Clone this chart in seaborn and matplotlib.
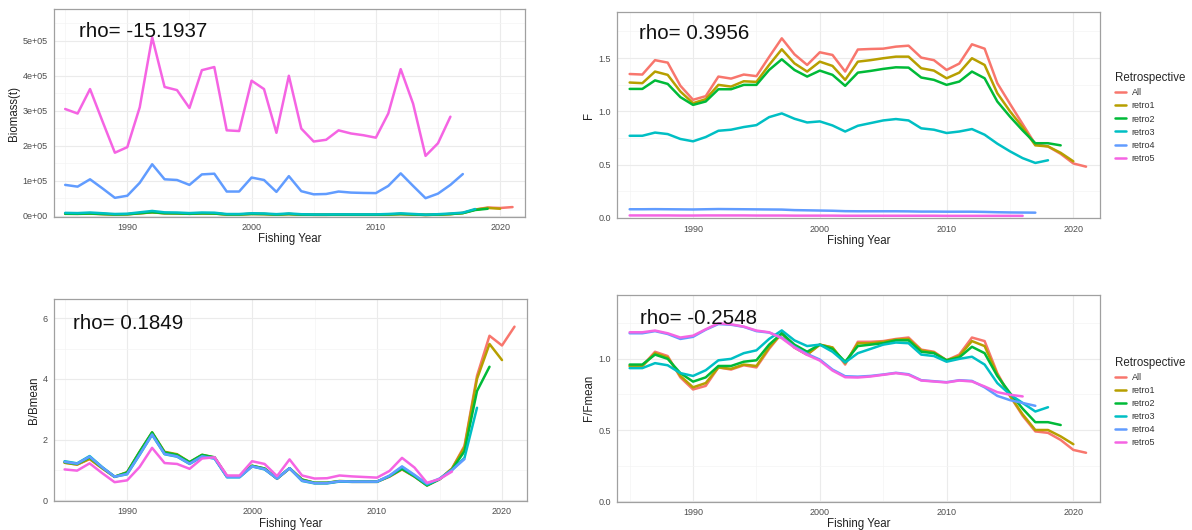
import pandas as pd
import seaborn as sns
import matplotlib.pyplot as plt
from matplotlib.ticker import MultipleLocator, FuncFormatter

sns.set_style('white')
plt.rcParams['font.family'] = ['Liberation Sans', 'DejaVu Sans']

years = list(range(1985, 2022))
runs = ['All', 'retro1', 'retro2', 'retro3', 'retro4', 'retro5']
colors = ['#F8766D', '#B79F00', '#00BA38', '#00BFC4', '#619CFF', '#F564E3']

# Biomass(t)
bio_all = [5400, 5200, 5800, 4500, 3300, 3900, 6700, 9500, 6800, 6400, 5200, 6400, 6000, 3400, 3400, 4900,
           4500, 3100, 4500, 3000, 2500, 2500, 2800, 2600, 2600, 2600, 3400, 4500, 3400, 2100, 3000, 4500,
           7700, 17600, 23300, 21900, 24600]
bio_r1 = [5400, 5200, 5900, 4600, 3400, 4000, 6800, 9600, 6900, 6500, 5300, 6500, 6000, 3400, 3400, 4900,
          4500, 3100, 4500, 3000, 2500, 2500, 2800, 2600, 2600, 2600, 3400, 4500, 3400, 2100, 3000, 4500,
          7500, 17200, 22100, 19900]
bio_r2 = [5600, 5400, 6200, 4800, 3500, 4100, 7100, 10000, 7100, 6700, 5500, 6700, 6200, 3500, 3500, 5100,
          4700, 3200, 4700, 3100, 2600, 2600, 2900, 2700, 2700, 2700, 3500, 4700, 3500, 2200, 3100, 4600,
          7200, 16200, 19800]
bio_r3 = [8000, 7400, 9000, 7000, 4800, 5600, 9600, 13500, 9500, 9000, 7400, 9000, 8500, 4700, 4700, 6900,
          6300, 4300, 6400, 4100, 3500, 3500, 3800, 3700, 3700, 3700, 4800, 6700, 4900, 3000, 4200, 6200,
          8700, 19000]
bio_r4 = [88000, 83000, 104000, 78000, 51000, 57000, 94000, 147000, 104000, 102000, 88000, 118000, 120000,
          69000, 69000, 109000, 102000, 68000, 113000, 70000, 61000, 62000, 69000, 66000, 65000, 64500,
          85000, 121000, 85000, 50000, 63000, 88000, 119000]
bio_r5 = [305000, 292000, 362000, 270000, 180000, 196000, 310000, 510000, 368000, 359000, 308000, 416000,
          425000, 244000, 242000, 386000, 362000, 237000, 400000, 249000, 212000, 217000, 244000, 235000,
          230000, 223000, 292000, 419000, 320000, 171000, 207000, 283000]

# F
f_all = [1.35, 1.345, 1.48, 1.457, 1.24, 1.108, 1.142, 1.326, 1.307, 1.345, 1.33, 1.51, 1.685, 1.535, 1.435,
         1.554, 1.529, 1.373, 1.58, 1.585, 1.588, 1.607, 1.616, 1.504, 1.48, 1.388, 1.448, 1.629, 1.588,
         1.264, 1.07, 0.88, 0.69, 0.67, 0.60, 0.51, 0.48]
f_r1 = [1.27, 1.264, 1.373, 1.342, 1.186, 1.076, 1.114, 1.248, 1.232, 1.282, 1.276, 1.435, 1.582, 1.45,
        1.373, 1.466, 1.426, 1.295, 1.466, 1.48, 1.498, 1.513, 1.513, 1.404, 1.382, 1.31, 1.363, 1.498,
        1.435, 1.17, 1.0, 0.85, 0.68, 0.67, 0.61, 0.53]
f_r2 = [1.21, 1.21, 1.29, 1.257, 1.133, 1.06, 1.092, 1.207, 1.207, 1.248, 1.248, 1.388, 1.488, 1.388, 1.326,
        1.382, 1.342, 1.239, 1.363, 1.379, 1.398, 1.413, 1.41, 1.317, 1.295, 1.248, 1.279, 1.373, 1.31,
        1.092, 0.95, 0.82, 0.70, 0.70, 0.68]
f_r3 = [0.77, 0.77, 0.80, 0.786, 0.74, 0.718, 0.758, 0.817, 0.827, 0.852, 0.87, 0.945, 0.98, 0.93, 0.895,
        0.905, 0.867, 0.81, 0.864, 0.889, 0.914, 0.927, 0.914, 0.84, 0.827, 0.796, 0.81, 0.833, 0.78, 0.696,
        0.624, 0.56, 0.515, 0.54]
f_r4 = [0.08, 0.08, 0.081, 0.08, 0.079, 0.078, 0.08, 0.082, 0.081, 0.08, 0.079, 0.078, 0.077, 0.072, 0.07,
        0.068, 0.066, 0.062, 0.061, 0.061, 0.061, 0.061, 0.06, 0.058, 0.058, 0.057, 0.057, 0.057, 0.055,
        0.052, 0.05, 0.049, 0.048]
f_r5 = [0.022, 0.022, 0.022, 0.022, 0.021, 0.021, 0.022, 0.022, 0.022, 0.022, 0.021, 0.021, 0.021, 0.02,
        0.02, 0.02, 0.02, 0.019, 0.019, 0.019, 0.019, 0.019, 0.019, 0.019, 0.019, 0.018, 0.018, 0.018,
        0.018, 0.018, 0.018, 0.018]

# B/Bmean
bb_all = [1.24, 1.18, 1.36, 1.06, 0.77, 0.92, 1.58, 2.22, 1.58, 1.50, 1.24, 1.48, 1.40, 0.78, 0.78, 1.13,
          1.04, 0.71, 1.05, 0.68, 0.57, 0.57, 0.63, 0.61, 0.61, 0.61, 0.78, 1.02, 0.78, 0.49, 0.69, 1.05,
          1.80, 4.10, 5.42, 5.10, 5.72]
bb_r1 = [1.24, 1.18, 1.37, 1.06, 0.78, 0.93, 1.60, 2.24, 1.60, 1.52, 1.26, 1.50, 1.41, 0.79, 0.79, 1.14,
         1.05, 0.72, 1.06, 0.69, 0.58, 0.58, 0.64, 0.62, 0.62, 0.62, 0.79, 1.03, 0.79, 0.50, 0.70, 1.05,
         1.75, 4.00, 5.15, 4.62]
bb_r2 = [1.26, 1.20, 1.42, 1.08, 0.78, 0.92, 1.60, 2.24, 1.58, 1.50, 1.26, 1.50, 1.42, 0.78, 0.78, 1.14,
         1.05, 0.72, 1.06, 0.68, 0.58, 0.58, 0.63, 0.62, 0.62, 0.62, 0.80, 1.04, 0.79, 0.49, 0.70, 1.02,
         1.62, 3.60, 4.40]
bb_r3 = [1.29, 1.22, 1.46, 1.10, 0.78, 0.86, 1.50, 2.16, 1.52, 1.44, 1.20, 1.44, 1.38, 0.76, 0.76, 1.12,
         1.02, 0.72, 1.06, 0.64, 0.56, 0.56, 0.62, 0.61, 0.61, 0.61, 0.80, 1.10, 0.82, 0.52, 0.70, 1.00,
         1.40, 3.05]
bb_r4 = [1.27, 1.21, 1.44, 1.09, 0.78, 0.87, 1.51, 2.17, 1.53, 1.45, 1.21, 1.45, 1.38, 0.77, 0.77, 1.12,
         1.03, 0.72, 1.06, 0.65, 0.57, 0.57, 0.63, 0.62, 0.62, 0.62, 0.82, 1.12, 0.84, 0.55, 0.72, 1.00,
         1.36]
bb_r5 = [1.02, 0.98, 1.22, 0.90, 0.60, 0.66, 1.10, 1.73, 1.23, 1.20, 1.04, 1.38, 1.42, 0.82, 0.82, 1.29,
         1.20, 0.80, 1.35, 0.82, 0.72, 0.73, 0.82, 0.79, 0.77, 0.75, 0.97, 1.40, 1.08, 0.58, 0.70, 0.95]

# F/Fmean
ff_all = [0.95, 0.95, 1.05, 1.02, 0.87, 0.785, 0.81, 0.94, 0.925, 0.955, 0.94, 1.07, 1.18, 1.08, 1.03, 1.10,
          1.08, 0.96, 1.12, 1.12, 1.125, 1.14, 1.15, 1.065, 1.05, 0.99, 1.03, 1.15, 1.125, 0.90, 0.74, 0.60,
          0.49, 0.48, 0.43, 0.36, 0.34]
ff_r1 = [0.95, 0.95, 1.04, 1.01, 0.88, 0.80, 0.83, 0.94, 0.93, 0.96, 0.95, 1.08, 1.18, 1.08, 1.03, 1.10,
         1.08, 0.97, 1.11, 1.11, 1.12, 1.135, 1.14, 1.06, 1.045, 0.99, 1.02, 1.125, 1.09, 0.89, 0.74, 0.61,
         0.50, 0.50, 0.455, 0.40]
ff_r2 = [0.96, 0.96, 1.03, 1.00, 0.90, 0.84, 0.87, 0.95, 0.95, 0.98, 0.99, 1.10, 1.18, 1.10, 1.05, 1.10,
         1.07, 0.98, 1.09, 1.10, 1.11, 1.13, 1.13, 1.05, 1.04, 0.99, 1.01, 1.085, 1.04, 0.88, 0.76, 0.65,
         0.555, 0.555, 0.535]
ff_r3 = [0.935, 0.935, 0.97, 0.955, 0.90, 0.88, 0.92, 0.99, 1.00, 1.04, 1.06, 1.14, 1.20, 1.13, 1.09, 1.10,
         1.05, 0.975, 1.04, 1.07, 1.10, 1.115, 1.11, 1.03, 1.02, 0.98, 1.00, 1.015, 0.96, 0.83, 0.75, 0.69,
         0.63, 0.66]
ff_r4 = [1.18, 1.18, 1.195, 1.175, 1.14, 1.155, 1.205, 1.245, 1.24, 1.225, 1.195, 1.185, 1.15, 1.085, 1.035,
         0.995, 0.925, 0.878, 0.875, 0.88, 0.89, 0.902, 0.892, 0.85, 0.843, 0.836, 0.85, 0.845, 0.80, 0.74,
         0.71, 0.69, 0.67]
ff_r5 = [1.187, 1.187, 1.199, 1.18, 1.15, 1.163, 1.208, 1.25, 1.243, 1.227, 1.199, 1.187, 1.145, 1.079,
         1.028, 0.988, 0.918, 0.871, 0.869, 0.876, 0.888, 0.9, 0.888, 0.848, 0.841, 0.834, 0.848, 0.841,
         0.806, 0.766, 0.748, 0.736]


def make_df(series):
    rows = []
    for run, vals in zip(runs, series):
        for yr, v in zip(years, vals):
            rows.append({'year': yr, 'value': v, 'run': run})
    return pd.DataFrame(rows)


fig = plt.figure(figsize=(11.92, 5.3), dpi=100)
fig.patch.set_facecolor('white')

panels = [
    # series, rect, ylabel, ylim, ymajor, fmt, rho text, rho pos, xlim, legend top
    ([bio_all, bio_r1, bio_r2, bio_r3, bio_r4, bio_r5], [0.0453, 0.5911, 0.3951, 0.3913], 'Biomass(t)',
     (-3000, 590000), 100000, lambda v, p: f'{v:.0e}', 'rho= -15.1937', (0.053, 0.892), (1984.1, 2022.0), None),
    ([f_all, f_r1, f_r2, f_r3, f_r4, f_r5], [0.5176, 0.5881, 0.4052, 0.3898], 'F',
     (-0.005, 1.935), 0.5, lambda v, p: f'{v:.1f}', 'rho= 0.3956', (0.046, 0.895), (1984.0, 2022.1), 0.872),
    ([bb_all, bb_r1, bb_r2, bb_r3, bb_r4, bb_r5], [0.0453, 0.0547, 0.3968, 0.3811], 'B/Bmean',
     (-0.02, 6.63), 2, lambda v, p: f'{v:.0f}', 'rho= 0.1849', (0.041, 0.88), (1984.15, 2022.0), None),
    ([ff_all, ff_r1, ff_r2, ff_r3, ff_r4, ff_r5], [0.5176, 0.0534, 0.4052, 0.39], 'F/Fmean',
     (-0.004, 1.449), 0.5, lambda v, p: f'{v:.1f}', 'rho= -0.2548', (0.047, 0.887), (1984.0, 2022.1), 0.335),
]

for series, rect, ylab, ylim, ymaj, fmt, rho, rpos, xlim, leg_top in panels:
    ax = fig.add_axes(rect)
    df = make_df(series)
    sns.lineplot(data=df, x='year', y='value', hue='run', hue_order=runs, palette=colors,
                 linewidth=1.8, ax=ax, legend=leg_top is not None)
    ax.set_xlim(*xlim)
    ax.set_ylim(*ylim)
    ax.xaxis.set_major_locator(MultipleLocator(10))
    ax.xaxis.set_minor_locator(MultipleLocator(5))
    ax.yaxis.set_major_locator(MultipleLocator(ymaj))
    ax.yaxis.set_minor_locator(MultipleLocator(ymaj / 2))
    ax.yaxis.set_major_formatter(FuncFormatter(fmt))
    ax.grid(which='major', color='#EBEBEB', lw=0.8)
    ax.grid(which='minor', color='#F4F4F4', lw=0.5)
    ax.set_axisbelow(True)
    for s in ax.spines.values():
        s.set_color('#A0A0A0')
        s.set_linewidth(0.9)
    ax.tick_params(which='major', length=2.5, width=0.6, color='#666666', labelsize=6.5,
                   labelcolor='#4D4D4D', pad=2)
    ax.tick_params(which='minor', length=0)
    ax.set_xlabel('Fishing Year', fontsize=8.3, color='#222222', labelpad=1)
    ax.set_ylabel(ylab, fontsize=8.3, color='#222222', labelpad=2)
    ax.text(rpos[0], rpos[1], rho, transform=ax.transAxes, fontsize=14.8, va='center', ha='left',
            color='#111111')
    if leg_top is not None:
        sns.move_legend(ax, 'upper left', bbox_to_anchor=(0.932, leg_top), bbox_transform=fig.transFigure,
                        frameon=False, title='Retrospective', fontsize=6.5, title_fontsize=8.3,
                        handlelength=1.2, handletextpad=0.6, labelspacing=0.45, borderpad=0,
                        alignment='left')
        for t in ax.get_legend().get_texts():
            t.set_color('#333333')

fig.savefig('out.png', dpi=100, facecolor='white')
